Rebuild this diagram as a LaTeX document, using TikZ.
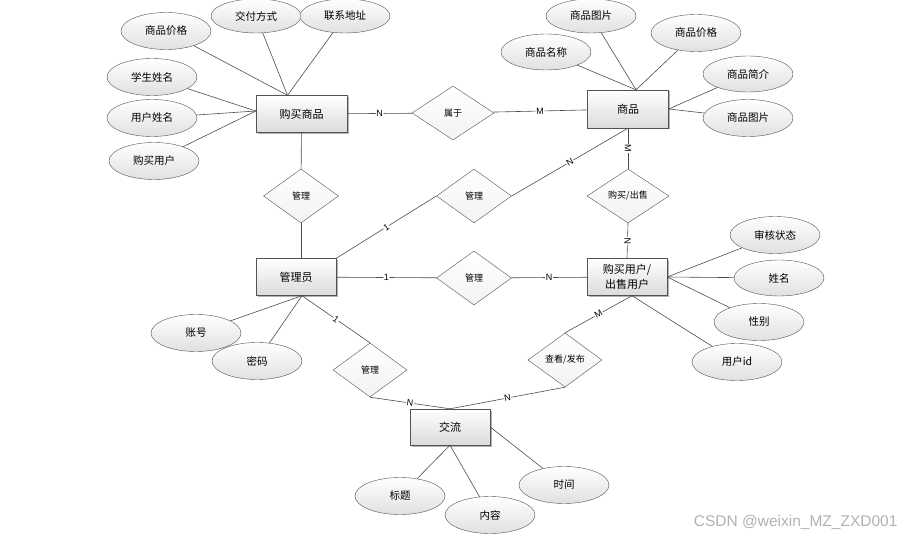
\documentclass[tikz,border=0pt]{standalone}
\usepackage{fontspec}
\newfontfamily\cjk{Noto Sans CJK SC}
\newfontfamily\latinfont{Liberation Sans}
\usetikzlibrary{shapes.geometric,shadows}
\tikzset{
  entity/.style={rectangle, draw=gray!65!black, top color=white, bottom color=gray!28,
    minimum width=80pt, minimum height=37pt, inner sep=1pt, align=center,
    font=\cjk\fontsize{11}{15}\selectfont,
    drop shadow={shadow xshift=1.5pt, shadow yshift=-1.5pt, fill=black, opacity=0.3}},
  attr/.style={ellipse, draw=gray!65!black, top color=white, bottom color=gray!24,
    minimum width=90pt, minimum height=37pt, inner sep=0pt,
    font=\cjk\fontsize{10.5}{12}\selectfont},
  rel/.style={diamond, draw=gray!65!black, top color=white, bottom color=gray!10,
    minimum width=75pt, minimum height=54pt, inner sep=0pt,
    font=\cjk\fontsize{9}{10}\selectfont},
  card/.style={pos=0.5, sloped, fill=white, inner sep=0.6pt, text=black,
    font=\latinfont\fontsize{9}{10}\selectfont}
}
\begin{document}
\begin{tikzpicture}[x=1pt, y=-1pt]
      \useasboundingbox (0,0) rectangle (904,537);
      \draw
        (301.5,114) node[entity, minimum width=91pt] (buy){购买商品}
        (628,109) node[entity, minimum width=81pt, minimum height=38pt] (goods){商品}
        (296,277) node[entity] (admin){管理员}
        (627,277) node[entity] (user){购买用户/\\出售用户}
        (450,427) node[entity, minimum height=36pt] (chat){交流}
        (453,113) node[rel, minimum width=82pt] (belong){属于}
        (301,196) node[rel] (manage1){管理}
        (474,196) node[rel] (manage2){管理}
        (628,196) node[rel, minimum width=82pt] (trade){购买/出售}
        (474,278) node[rel] (manage3){管理}
        (370,370) node[rel, minimum width=74pt] (manage4){管理}
        (565,360) node[rel, minimum width=74pt] (post){查看/发布}
        (166,31) node[attr] (bprice){商品价格}
        (256,16) node[attr, minimum height=34pt] (bpay){交付方式}
        (345,16) node[attr, minimum height=34pt] (baddr){联系地址}
        (152,77) node[attr] (bstudent){学生姓名}
        (152,118) node[attr] (buname){用户姓名}
        (154,161) node[attr] (bbuyer){购买用户}
        (546,52) node[attr, minimum height=36pt] (gname){商品名称}
        (591,16) node[attr, minimum height=34pt] (gpic1){商品图片}
        (696,33) node[attr] (gprice){商品价格}
        (748,74) node[attr, minimum height=36pt] (gintro){商品简介}
        (748,118) node[attr] (gpic2){商品图片}
        (775,235) node[attr] (ustate){审核状态}
        (779,278) node[attr, minimum height=36pt] (uname){姓名}
        (759,322) node[attr] (usex){性别}
        (737,362) node[attr] (uid){用户id}
        (196,333) node[attr] (aacct){账号}
        (257,361) node[attr] (apwd){密码}
        (400,496) node[attr] (ctitle){标题}
        (490,515) node[attr] (cbody){内容}
        (564,485) node[attr] (ctime){时间};
      \node[anchor=east, text=gray!60, font=\latinfont\fontsize{15.5}{17}\selectfont]
        (mark) at (901,522) {CSDN @weixin\_MZ\_ZXD001};
      \coordinate (buytop) at ([xshift=-14pt]buy.north);
      \coordinate (buyleft) at ([yshift=3pt]buy.west);
      \coordinate (goodstop) at ([xshift=8pt]goods.north);
      \coordinate (adminbot) at ([xshift=6pt]admin.south);
      \coordinate (userbot) at ([xshift=5pt]user.south);
      \begin{scope}[gray!60!black, line width=0.6pt]
        \draw (bprice) to (buytop);
        \draw (bpay) to (buytop);
        \draw (baddr) to (buytop);
        \draw (bstudent) to (buyleft);
        \draw (buname) to (buyleft);
        \draw (bbuyer) to (buyleft);
        \draw (gname) to (goodstop);
        \draw (gpic1) to (goodstop);
        \draw (gprice) to (goodstop);
        \draw (gintro) to (goods.east);
        \draw (gpic2) to (goods.east);
        \draw (ustate) to (user.east);
        \draw (uname) to (user.east);
        \draw (usex) to (user.east);
        \draw (uid) to (userbot);
        \draw (aacct) to (adminbot);
        \draw (apwd) to (adminbot);
        \draw (ctitle) to (chat.south);
        \draw (cbody) to (chat.south);
        \draw (ctime) to (chat.east);
        \draw (buy) -- node[card]{N} (belong);
        \draw (belong) -- node[card]{M} (goods);
        \draw (buy) to (manage1);
        \draw (manage1) to (manage1.south |- admin.north);
        \draw (admin.north east) -- node[card]{1} (manage2.west);
        \draw (manage2.east) -- node[card]{N} (goods.south);
        \draw (goods.south) -- node[card]{M} (trade.north);
        \draw (trade.south) -- node[card]{N} (user.north);
        \draw (admin) -- node[card]{1} (manage3);
        \draw (manage3) -- node[card]{N} (user);
        \draw (adminbot) -- node[card]{1} (manage4.north);
        \draw (manage4.south) -- node[card]{N} (chat.north);
        \draw (post.south) -- node[card]{N} (chat.north);
        \draw (post.north) -- node[card]{M} (userbot);
      \end{scope}
    \end{tikzpicture}
\end{document}
